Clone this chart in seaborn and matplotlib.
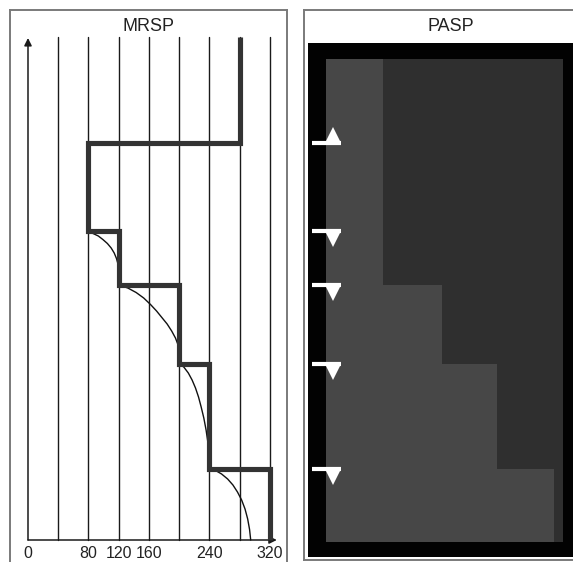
import matplotlib
matplotlib.use("Agg")
import matplotlib.pyplot as plt
import matplotlib.transforms as mtransforms
import seaborn as sns
import pandas as pd
import numpy as np

sns.set_theme(style="white")
plt.rcParams['font.family'] = ['Liberation Sans', 'DejaVu Sans']

# ---------------- data ----------------
grid_x = [40, 80, 120, 160, 200, 240, 280, 320]
tick_values = [0, 80, 120, 160, 240, 320]
tick_labels = ["0", "80", "120", "160", "240", "320"]

# MRSP: speed limits (top to bottom) and locations where they change
speed_limits = [280, 80, 120, 200, 240, 320]
change_levels = [79.4, 61.8, 51.0, 35.2, 14.2]
top_level = 100.6
bottom_level = 0.0

# braking curves
curve1_x = [80, 86, 93, 99, 105, 110, 114, 117, 119, 120]
curve1_y = [61.6, 61.3, 60.8, 60.1, 59.3, 58.4, 57.4, 56.3, 55.2, 54.4]
curve2_x = [120, 132, 143, 153, 162, 170, 177, 184, 190, 195, 198.5, 200]
curve2_y = [51.0, 50.4, 49.5, 48.4, 47.1, 45.8, 44.5, 43.2, 41.8, 40.4, 39.0, 38.0]
curve3_x = [200, 206, 212, 217, 221.5, 225.5, 229, 232.5, 235.5, 238, 240]
curve3_y = [35.2, 34.6, 33.4, 32.0, 30.4, 28.6, 26.6, 24.4, 22.0, 19.4, 17.0]
curve4_x = [240, 248, 256, 264, 271, 277, 282.5, 287, 290.5, 293, 294.5]
curve4_y = [14.2, 13.9, 13.2, 12.2, 11.0, 9.6, 8.0, 6.2, 4.2, 2.1, 0.0]

# PASP: width of the lighter area per section (percent of panel width)
pasp_widths = [24, 49, 72, 96]
pasp_tops = [96.2, 51.0, 35.2, 14.2]
pasp_bottoms = [51.0, 35.2, 14.2, -0.4]
marker_levels = [79.4, 61.8, 51.0, 35.2, 14.2]
marker_dirs = ["up", "down", "down", "down", "down"]

# ---------------- figure ----------------
W, H = 573, 562
fig = plt.figure(figsize=(W / 100, H / 100), dpi=100)
fig.patch.set_facecolor("white")

def fig_rect(x0, x1, y0, y1):
    return [x0 / W, 1 - y1 / H, (x1 - x0) / W, (y1 - y0) / H]

# ---------- MRSP panel ----------
ax = fig.add_axes(fig_rect(10, 287, 10, 565))
ax.set_xlim(-23.8, 342.5)
ax.set_ylim(-5.0, 106.0)
ax.set_facecolor("white")
for s in ax.spines.values():
    s.set_color("#7a7a7a")
    s.set_linewidth(1.4)
ax.set_xticks([])
ax.set_yticks([])

for gx in grid_x:
    ax.plot([gx, gx], [bottom_level, top_level], color="#1a1a1a", lw=1.0, zorder=1)

# axes arrows
ax.annotate("", xy=(0, 100.4), xytext=(0, 0),
            arrowprops=dict(arrowstyle="-|>", lw=1.1, color="#1a1a1a",
                            mutation_scale=11, shrinkA=0, shrinkB=0), zorder=2)
ax.annotate("", xy=(329, 0), xytext=(0, 0),
            arrowprops=dict(arrowstyle="-|>", lw=1.1, color="#1a1a1a",
                            mutation_scale=11, shrinkA=0, shrinkB=0), zorder=2)

# MRSP step path built from the data
px, py = [speed_limits[0]], [top_level]
for i, lev in enumerate(change_levels):
    px += [speed_limits[i], speed_limits[i + 1]]
    py += [lev, lev]
px.append(speed_limits[-1])
py.append(bottom_level)
mrsp_df = pd.DataFrame({"speed": px, "dist": py})
sns.lineplot(data=mrsp_df, x="speed", y="dist", sort=False, estimator=None,
             color="#333333", lw=3.7, ax=ax, zorder=4)
ax.lines[-1].set_solid_joinstyle("miter")
ax.lines[-1].set_solid_capstyle("butt")

for cx, cy in [(curve1_x, curve1_y), (curve2_x, curve2_y),
               (curve3_x, curve3_y), (curve4_x, curve4_y)]:
    cdf = pd.DataFrame({"speed": cx, "dist": cy})
    sns.lineplot(data=cdf, x="speed", y="dist", sort=False, estimator=None,
                 color="#111111", lw=1.0, ax=ax, zorder=3)

for v, lab in zip(tick_values, tick_labels):
    ax.text(v, -2.8, lab, ha="center", va="center", fontsize=11.5, color="#222222")
ax.text((148.5 - 28) / 0.75625, 102.7, "MRSP", ha="center", va="center",
        fontsize=13, color="#222222")
ax.set_xlabel("")
ax.set_ylabel("")

# ---------- PASP panel ----------
ax2 = fig.add_axes(fig_rect(304, 600, 10, 560))
ax2.set_xlim(-9.28, 115.6)
ax2.set_ylim(-4.0, 106.0)
ax2.set_facecolor("white")
for s in ax2.spines.values():
    s.set_color("#7a7a7a")
    s.set_linewidth(1.4)
ax2.set_xticks([])
ax2.set_yticks([])

ax2.add_patch(plt.Rectangle((-7.6, -3.4), 130, 102.8, color="#020202", lw=0, zorder=1))
ax2.add_patch(plt.Rectangle((0, -0.4), 100, 96.6, color="#2f2f2f", lw=0, zorder=2))
for w, t, b in zip(pasp_widths, pasp_tops, pasp_bottoms):
    ax2.add_patch(plt.Rectangle((0, b), w, t - b, color="#474747", lw=0, zorder=3))

for lev, d in zip(marker_levels, marker_dirs):
    ax2.plot([-5.9, 6.3], [lev, lev], color="white", lw=3.0,
             solid_capstyle="butt", zorder=5)
    off = 9.0 if d == "up" else -9.0
    tr = mtransforms.offset_copy(ax2.transData, fig=fig, x=0, y=off, units="dots")
    ax2.plot([2.95], [lev], marker="^" if d == "up" else "v", ms=10.5,
             color="white", mec="white", mew=0, transform=tr, zorder=5)

ax2.text((451 - 326) / 2.37, 102.7, "PASP", ha="center", va="center",
         fontsize=13, color="#222222")

fig.savefig("out.png", dpi=100, facecolor="white")
